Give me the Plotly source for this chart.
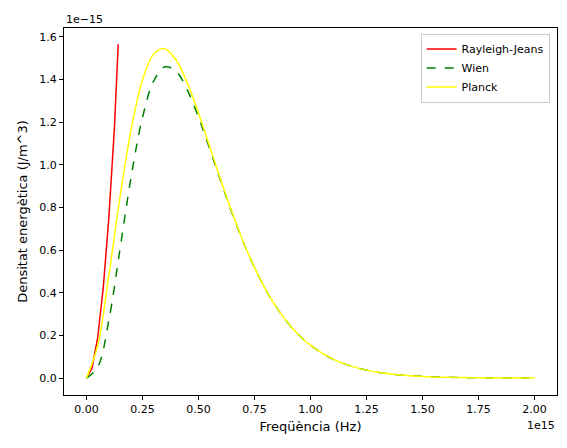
import plotly.graph_objects as go

# frequencies in units of 1e15 Hz, energy density in units of 1e-15 J/m^3
nu = [0, 0.05, 0.1, 0.15, 0.2, 0.25, 0.3, 0.35, 0.4, 0.45, 0.5, 0.55, 0.6, 0.65, 0.7, 0.75,
      0.8, 0.85, 0.9, 0.95, 1.0, 1.1, 1.2, 1.3, 1.4, 1.5, 1.6, 1.8, 2.0]
planck = [0, 0.151, 0.481, 0.849, 1.168, 1.396, 1.518, 1.544, 1.491, 1.384, 1.243, 1.086, 0.927,
          0.777, 0.639, 0.519, 0.415, 0.329, 0.2575, 0.200, 0.1538, 0.0892, 0.0505, 0.0279,
          0.0152, 0.00815, 0.0043, 0.00117, 0.0003]
wien = [0, 0.051, 0.271, 0.605, 0.946, 1.220, 1.392, 1.459, 1.438, 1.351, 1.224, 1.075, 0.921,
        0.773, 0.638, 0.518, 0.415, 0.329, 0.2575, 0.200, 0.1538, 0.0892, 0.0505, 0.0279,
        0.0152, 0.00815, 0.0043, 0.00117, 0.0003]
nu_rj = [0, 0.025, 0.05, 0.075, 0.1, 0.125, 0.142]
rj = [0, 0.047, 0.187, 0.422, 0.750, 1.172, 1.565]

xticks = [0, 0.25, 0.5, 0.75, 1.0, 1.25, 1.5, 1.75, 2.0]
xlabels = ["0.00", "0.25", "0.50", "0.75", "1.00", "1.25", "1.50", "1.75", "2.00"]
yticks = [0, 0.2, 0.4, 0.6, 0.8, 1.0, 1.2, 1.4, 1.6]
ylabels = ["0.0", "0.2", "0.4", "0.6", "0.8", "1.0", "1.2", "1.4", "1.6"]

fig = go.Figure()
fig.add_trace(go.Scatter(x=nu_rj, y=rj, mode="lines", name="Rayleigh-Jeans",
                         line=dict(color="red", width=1.5)))
fig.add_trace(go.Scatter(x=nu, y=wien, mode="lines", name="Wien", line_shape="spline",
                         line=dict(color="green", width=1.5, dash="dash")))
fig.add_trace(go.Scatter(x=nu, y=planck, mode="lines", name="Planck", line_shape="spline",
                         line=dict(color="yellow", width=1.5)))

axis = dict(showline=True, linecolor="black", linewidth=1, mirror=True, ticks="outside",
            ticklen=4, tickcolor="black", showgrid=False, zeroline=False,
            tickfont=dict(size=11, color="black"))
fig.update_layout(
    width=567, height=448, plot_bgcolor="white", paper_bgcolor="white",
    margin=dict(l=56, r=18, t=20, b=61),
    font=dict(family="DejaVu Sans", size=11, color="black"),
    xaxis=dict(axis, range=[-0.1, 2.1], tickvals=xticks, ticktext=xlabels,
               title=dict(text="Freqüència (Hz)", standoff=6)),
    yaxis=dict(axis, range=[-0.079, 1.641], tickvals=yticks, ticktext=ylabels,
               title=dict(text="Densitat energètica (J/m^3)", standoff=8)),
    legend=dict(x=0.985, y=0.985, xanchor="right", yanchor="top", bordercolor="#cccccc",
                borderwidth=1, bgcolor="rgba(255,255,255,0.8)", font=dict(size=11)),
    annotations=[
        dict(text="1e−15", xref="paper", yref="paper", x=0, y=1, xanchor="left",
             yanchor="bottom", showarrow=False, font=dict(size=11)),
        dict(text="1e15", xref="paper", yref="paper", x=1, y=-0.06, xanchor="right",
             yanchor="top", showarrow=False, font=dict(size=11)),
    ],
)
fig.write_html("out.html")
